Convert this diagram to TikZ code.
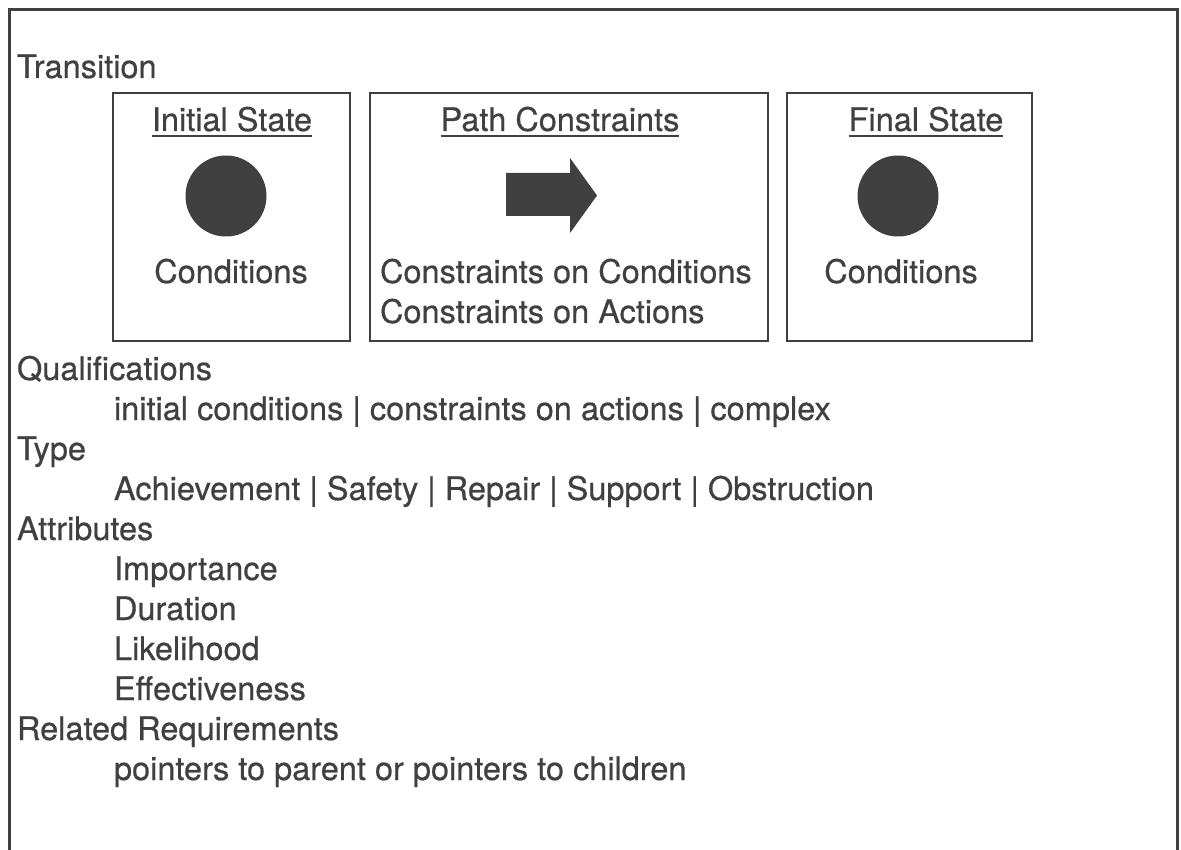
\documentclass[tikz,border=0pt]{standalone}
\usepackage{fontspec}
\setmainfont{TeX Gyre Heros}[FakeBold=0.5]
\definecolor{ink}{HTML}{404040}
\begin{document}
\begin{tikzpicture}[x=1pt,y=-1pt,
  every node/.style={inner sep=0pt, outer sep=0pt, text=ink,
    font=\fontsize{32.5}{40}\selectfont},
  frameline/.style={draw=ink, line width=3pt},
  panel/.style={draw=ink, line width=2pt},
  dot/.style={fill=ink},
  lefttext/.style={anchor=base west},
  midtext/.style={anchor=base},
  uline/.style={draw=ink, line width=2pt}]
\useasboundingbox (0,0) rectangle (1181,850);
\fill[white] (0,0) rectangle (1181,850);

% open frame: left, top and right sides
\draw[frameline] (9,850) -- (9,10) -- (1177,10) -- (1177,850);

\node[lefttext] (transition) at (17,78) {Transition};

% the three panels
\draw[panel] (113,93) rectangle (350,341);
\draw[panel] (370,93) rectangle (768,341);
\draw[panel] (787,93) rectangle (1032,341);

% initial state
\node[midtext] (initT) at (232,131) {Initial State};
\draw[uline] ([yshift=-5pt]initT.base west) -- ([yshift=-5pt]initT.base east);
\fill[dot] (226,196) circle (40.5);
\node[midtext] (initC) at (231,283) {Conditions};

% path constraints
\node[midtext] (pathT) at (560,131) {Path Constraints};
\draw[uline] ([yshift=-5pt]pathT.base west) -- ([yshift=-5pt]pathT.base east);
\fill[ink] (506,173) -- (570,173) -- (570,158) -- (597,195.5)
  -- (570,233) -- (570,216) -- (506,216) -- cycle;
\node[lefttext] (pathC1) at (380,283) {Constraints on Conditions};
\node[lefttext] (pathC2) at (380,323) {Constraints on Actions};

% final state
\node[midtext] (finT) at (926,131) {Final State};
\draw[uline] ([yshift=-5pt]finT.base west) -- ([yshift=-5pt]finT.base east);
\fill[dot] (898,196) circle (40.5);
\node[midtext] (finC) at (901,283) {Conditions};

% requirement fields
\node[lefttext] (qual) at (17,380) {Qualifications};
\node[lefttext] (qualv) at (114,420) {initial conditions | constraints on actions | complex};
\node[lefttext] (type) at (17,460) {Type};
\node[lefttext] (typev) at (114,500) {Achievement | Safety | Repair | Support | Obstruction};
\node[lefttext] (attr) at (17,540) {Attributes};
\node[lefttext] (attr1) at (114,580) {Importance};
\node[lefttext] (attr2) at (114,620) {Duration};
\node[lefttext] (attr3) at (114,660) {Likelihood};
\node[lefttext] (attr4) at (114,700) {Effectiveness};
\node[lefttext] (rel) at (17,740) {Related Requirements};
\node[lefttext] (relv) at (114,780) {pointers to parent or pointers to children};
\end{tikzpicture}
\end{document}
